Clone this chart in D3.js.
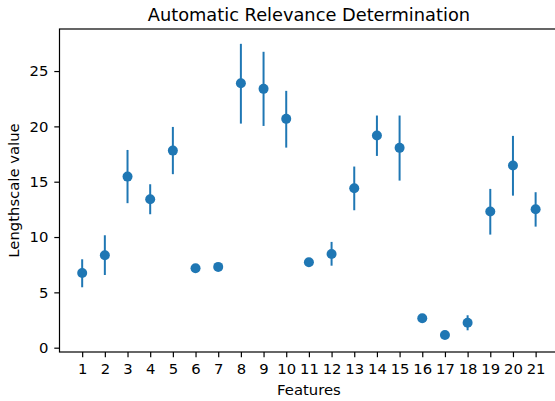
<!DOCTYPE html>
<html><head><meta charset="utf-8">
<script src="https://cdn.jsdelivr.net/npm/d3@7"></script>
<style>body{margin:0;background:#fff}text{font-family:"DejaVu Sans",sans-serif;fill:#000}</style>
</head><body>
<svg id="c" width="555" height="401"></svg>
<script>
const features = [1,2,3,4,5,6,7,8,9,10,11,12,13,14,15,16,17,18,19,20,21];
const values = [6.75,8.35,15.46,13.42,17.81,7.18,7.30,23.90,23.39,20.68,7.72,8.47,14.41,19.17,18.06,2.66,1.15,2.26,12.30,16.46,12.51];
const lower  = [5.46,6.57,13.06,12.06,15.68,7.18,7.30,20.25,20.04,18.08,7.72,7.41,12.42,17.33,15.10,2.66,1.15,1.57,10.22,13.74,10.94];
const upper  = [7.99,10.16,17.87,14.77,19.95,7.18,7.30,27.46,26.74,23.21,7.72,9.56,16.37,20.98,20.98,2.66,1.15,2.93,14.35,19.14,14.05];
const yTicks = [0,5,10,15,20,25];

const svg = d3.select("#c");
const L = 59.5, R = 558.3, T = 29, B = 352;
const x = d3.scaleLinear().domain([0,22]).range([L,R]);
const y = d3.scaleLinear().domain([-0.39,28.8]).range([B,T]);
const color = "#1f77b4";

const data = features.map((f,i)=>({f, v:values[i], lo:lower[i], hi:upper[i]}));

svg.append("g").selectAll("line").data(data).join("line")
  .attr("x1", d=>x(d.f)).attr("x2", d=>x(d.f))
  .attr("y1", d=>y(d.lo)).attr("y2", d=>y(d.hi))
  .attr("stroke", color).attr("stroke-width", 2);
svg.append("g").selectAll("circle").data(data).join("circle")
  .attr("cx", d=>x(d.f)).attr("cy", d=>y(d.v)).attr("r", 5).attr("fill", color);

const xAxis = d3.axisBottom(x).tickValues(features).tickSize(5.2).tickPadding(6).tickFormat(d3.format("d"));
const gx = svg.append("g").attr("transform", `translate(0,${B})`).call(xAxis);
const yAxis = d3.axisLeft(y).tickValues(yTicks).tickSize(5.2).tickPadding(6);
const gy = svg.append("g").attr("transform", `translate(${L},0)`).call(yAxis);
[gx,gy].forEach(g=>{
  g.select(".domain").remove();
  g.selectAll(".tick line").attr("stroke","#000").attr("stroke-width",1.2);
  g.selectAll(".tick text").attr("font-size","14.8px").attr("font-family","DejaVu Sans").attr("fill","#000");
});
svg.append("rect").attr("x",L).attr("y",T).attr("width",R-L).attr("height",B-T)
  .attr("fill","none").attr("stroke","#000").attr("stroke-width",1.2);

svg.append("text").attr("x",(L+R)/2).attr("y",21).attr("text-anchor","middle").attr("font-size","17.8px").text("Automatic Relevance Determination");
svg.append("text").attr("x",(L+R)/2).attr("y",395).attr("text-anchor","middle").attr("font-size","14.8px").text("Features");
svg.append("text").attr("transform",`translate(19,${(T+B)/2}) rotate(-90)`).attr("text-anchor","middle").attr("font-size","14.8px").text("Lengthscale value");
</script>
</body></html>
